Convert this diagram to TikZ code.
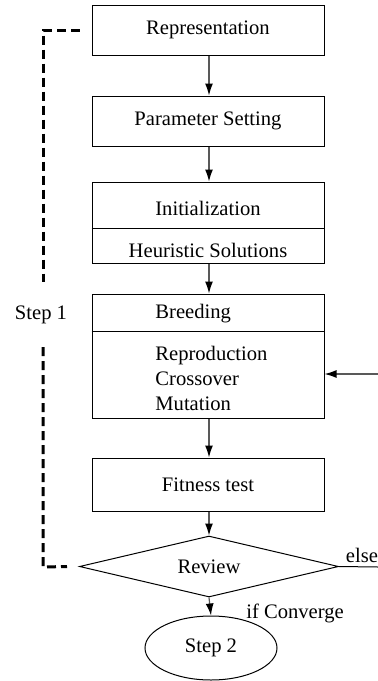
\documentclass[tikz,border=0pt]{standalone}
\usepackage{fontspec}
\setmainfont{Liberation Serif}
\usetikzlibrary{arrows.meta,shapes.geometric}
\begin{document}
\begin{tikzpicture}[x=0.5pt,y=-0.5pt,
  every node/.style={font=\fontsize{10.3}{12.5}\selectfont},
  box/.style={draw,line width=0.5pt,minimum width=116pt,inner sep=0pt},
  arr/.style={draw=black!65,line width=0.6pt,-{Latex[length=6pt,width=4pt,black]}},
  dline/.style={line width=1.5pt,dash pattern=on 4.5pt off 2.5pt},
  txt/.style={inner sep=0pt}]
\useasboundingbox[fill=white] (0,0) rectangle (378,681);
% boxes
\node[box,minimum height=25pt] (rep) at (208,30) {Representation};
\node[box,minimum height=25pt] (par) at (208,121) {Parameter Setting};
\node[box,minimum height=40.5pt] (init) at (208,222.5) {};
\node[txt] (inittx) at (208,208) {Initialization};
\node[txt] (heur) at (208,250) {Heuristic Solutions};
\draw[line width=0.5pt] (init.west |- 0,228) -- (init.east |- 0,228);
\node[box,minimum height=62pt] (breed) at (208,356) {};
\node[txt,anchor=west] (breedtx) at (155,314) {Breeding};
\draw[line width=0.5pt] (breed.west |- 0,331) -- (breed.east |- 0,331);
\node[txt,anchor=west,align=left] (ops) at (155,378) {Reproduction\\Crossover\\Mutation};
\node[box,minimum height=26.5pt] (fit) at (208,484.5) {Fitness test};
\node[draw,line width=0.5pt,shape=diamond,aspect=4.25,minimum width=129.5pt,minimum height=30.5pt,inner sep=0pt] (rev) at (209,566.5) {Review};
\node[draw,line width=0.5pt,ellipse,minimum width=66pt,minimum height=32pt,inner sep=0pt] (s2) at (211,648) {Step 2};
% arrows
\draw[arr] (rep.south -| rev.north) -- (par.north -| rev.north);
\draw[arr] (par.south -| rev.north) -- (init.north -| rev.north);
\draw[arr] (init.south -| rev.north) -- (breed.north -| rev.north);
\draw[arr] (breed.south -| rev.north) -- (fit.north -| rev.north);
\draw[arr] (fit.south -| rev.north) -- (rev.north);
\draw[arr] (rev.south) -- (s2.north);
\coordinate (rin) at (378,374);
\draw[arr] (rin) -- (rin -| breed.east);
\coordinate (eout) at (378,567);
\draw[line width=0.5pt] (rev.east) -- (eout);
\node[txt,anchor=south] (else) at (362,563) {else};
\node[txt] (conv) at (295,613) {if Converge};
% dashed loop
\node[txt] (step1) at (41,315) {Step 1};
\draw[dline] ([xshift=-6pt]rep.west) -- (43,30) -- (43,282);
\draw[dline] (43,347) -- (43,567) -- ([xshift=-6pt]rev.west);
\end{tikzpicture}
\end{document}
